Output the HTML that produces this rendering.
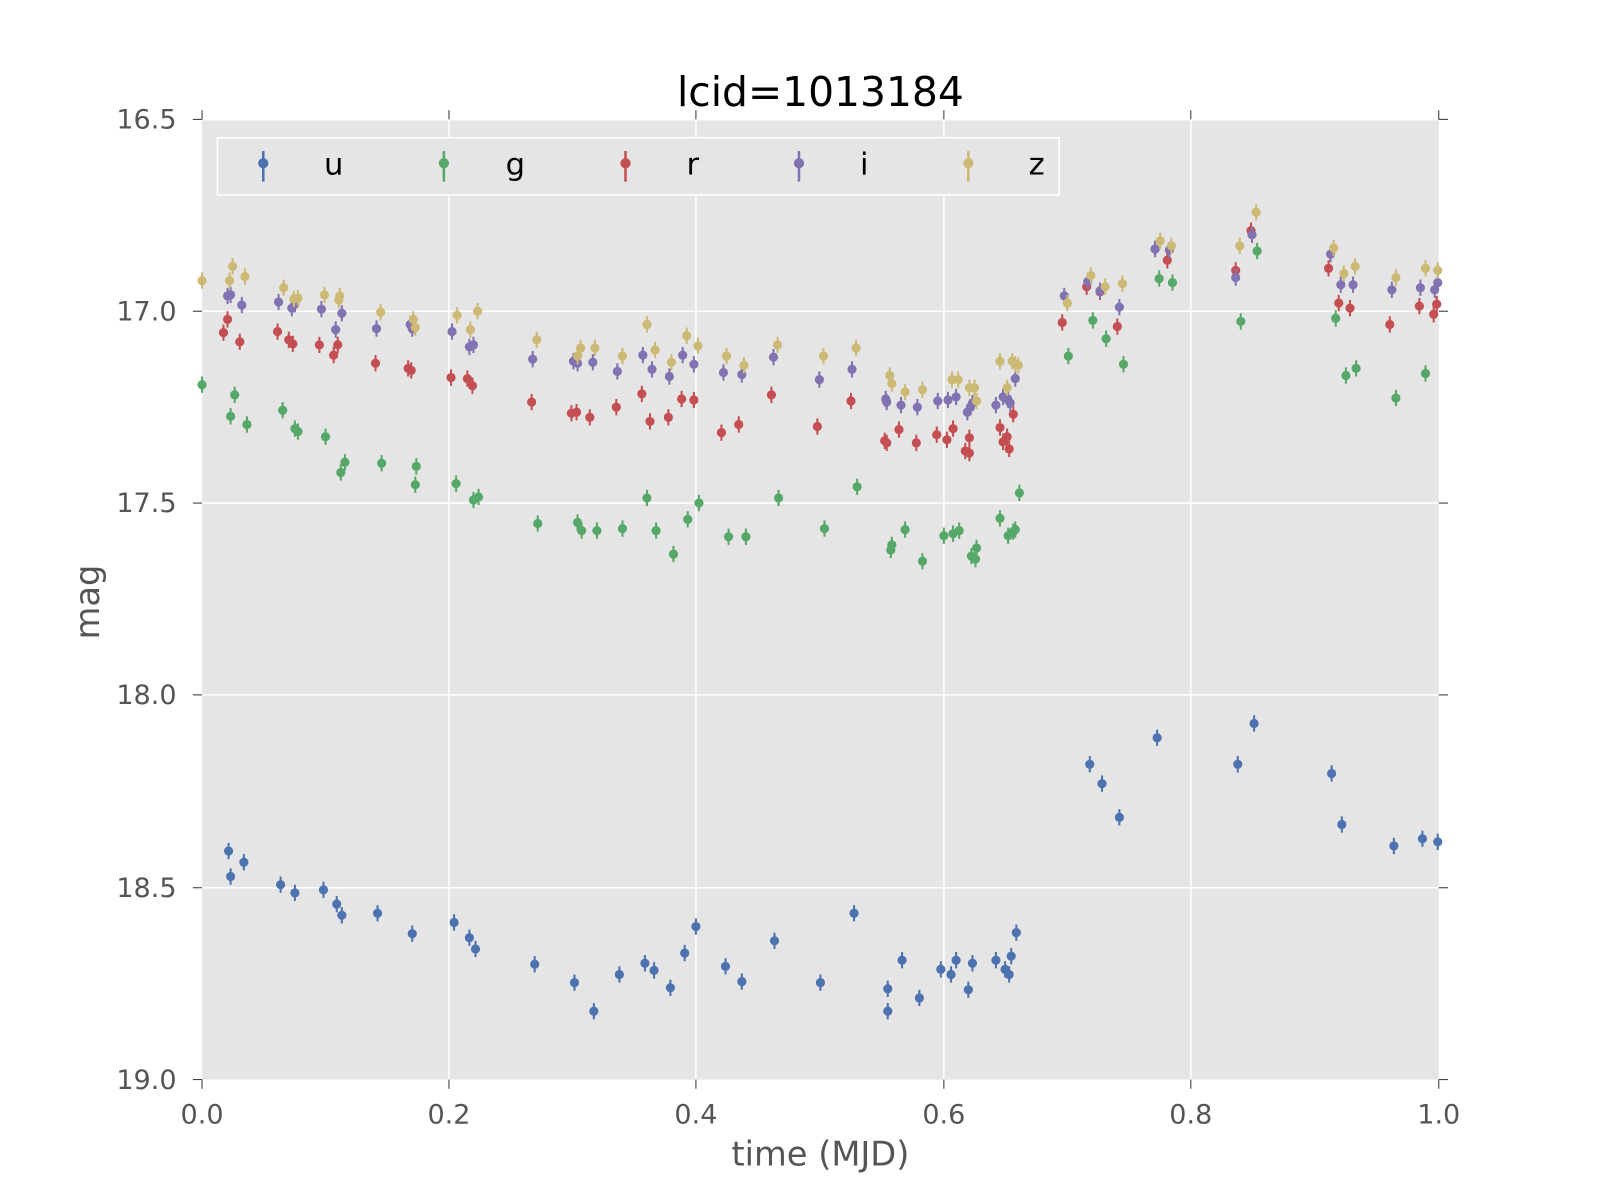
<!DOCTYPE html>
<html><head><meta charset="utf-8"><style>body{margin:0;background:#fff;overflow:hidden}svg{display:block}text{font-family:"DejaVu Sans","Liberation Sans",sans-serif}</style></head>
<body>
<svg width="1600" height="1200" xmlns="http://www.w3.org/2000/svg">
<g transform="scale(1.0204)">
<rect x="198" y="118" width="1212" height="940" fill="#E5E5E5"/>
<g stroke="#fff" stroke-width="1.5">
<line x1="440" y1="118" x2="440" y2="1058"/><line x1="682" y1="118" x2="682" y2="1058"/><line x1="925" y1="118" x2="925" y2="1058"/><line x1="1167" y1="118" x2="1167" y2="1058"/>
<line x1="198" y1="305" x2="1410" y2="305"/><line x1="198" y1="493" x2="1410" y2="493"/><line x1="198" y1="681" x2="1410" y2="681"/><line x1="198" y1="870" x2="1410" y2="870"/>
</g>
<g stroke="#333" stroke-width="1">
<line x1="198" y1="108" x2="198" y2="117"/><line x1="440" y1="108" x2="440" y2="117"/><line x1="682" y1="108" x2="682" y2="117"/><line x1="925" y1="108" x2="925" y2="117"/><line x1="1167" y1="108" x2="1167" y2="117"/><line x1="1410" y1="108" x2="1410" y2="117"/>
<line x1="198" y1="1058" x2="198" y2="1067"/><line x1="440" y1="1058" x2="440" y2="1067"/><line x1="682" y1="1058" x2="682" y2="1067"/><line x1="925" y1="1058" x2="925" y2="1067"/><line x1="1167" y1="1058" x2="1167" y2="1067"/><line x1="1410" y1="1058" x2="1410" y2="1067"/>
<line x1="189" y1="117" x2="198" y2="117"/><line x1="189" y1="305" x2="198" y2="305"/><line x1="189" y1="493" x2="198" y2="493"/><line x1="189" y1="681" x2="198" y2="681"/><line x1="189" y1="870" x2="198" y2="870"/><line x1="189" y1="1058" x2="198" y2="1058"/>
<line x1="1410" y1="117" x2="1419" y2="117"/><line x1="1410" y1="305" x2="1419" y2="305"/><line x1="1410" y1="493" x2="1419" y2="493"/><line x1="1410" y1="681" x2="1419" y2="681"/><line x1="1410" y1="870" x2="1419" y2="870"/><line x1="1410" y1="1058" x2="1419" y2="1058"/>
</g>
<g font-size="26.5" fill="#555" text-anchor="middle">
<text x="198" y="1101">0.0</text><text x="440" y="1101">0.2</text><text x="682" y="1101">0.4</text><text x="925" y="1101">0.6</text><text x="1167" y="1101">0.8</text><text x="1410" y="1101">1.0</text>
</g>
<g font-size="26.5" fill="#555" text-anchor="end">
<text x="173" y="126">16.5</text><text x="173" y="314">17.0</text><text x="173" y="502">17.5</text><text x="173" y="690">18.0</text><text x="173" y="879">18.5</text><text x="173" y="1067">19.0</text>
</g>
<text x="804" y="1142" font-size="33" fill="#555" text-anchor="middle">time (MJD)</text>
<text x="97" y="590" font-size="33" fill="#555" text-anchor="middle" transform="rotate(-90 97 590)">mag</text>
<text x="804" y="104" font-size="40" fill="#000" text-anchor="middle">lcid=1013184</text>
<rect x="213" y="135" width="825" height="56" fill="#E5E5E5" stroke="#fff" stroke-width="1.5"/>
<g font-size="30" fill="#000" text-anchor="middle">
<text x="327" y="171">u</text><text x="505" y="171">g</text><text x="679" y="171">r</text><text x="847" y="171">i</text><text x="1016" y="171">z</text>
</g>
<g id="pts"></g>
</g>
</svg>
<script>
var S={
"#4C72B0":[[224,834],[226,859],[239,845],[275,867],[289,875],[317,872],[330,886],[335,897],[370,895],[404,915],[445,904],[460,919],[466,930],[524,945],[563,963],[582,991],[607,955],[632,944],[641,951],[657,968],[671,934],[682,908],[711,947],[727,962],[759,922],[804,963],[837,895],[870,969],[870,991],[884,941],[901,978],[922,950],[932,955],[937,941],[949,970],[953,944],[976,941],[985,950],[989,955],[991,937],[996,914],[1068,749],[1080,768],[1097,801],[1134,723],[1213,749],[1229,709],[1305,758],[1315,808],[1366,829],[1394,822],[1409,825]],
"#55A868":[[198,377],[226,408],[230,387],[242,416],[277,402],[289,420],[292,423],[319,428],[334,463],[338,453],[374,454],[407,475],[408,457],[447,474],[464,490],[469,487],[527,513],[566,512],[570,520],[585,520],[610,518],[634,488],[643,520],[660,543],[674,509],[685,493],[714,526],[731,526],[763,488],[808,518],[840,477],[873,539],[874,534],[887,519],[904,550],[925,525],[934,523],[940,520],[952,545],[956,548],[957,537],[980,508],[988,525],[993,521],[995,519],[999,483],[1047,349],[1071,314],[1084,332],[1101,357],[1136,273],[1149,277],[1216,315],[1232,246],[1309,312],[1319,368],[1329,361],[1368,390],[1397,366]],
"#C44E52":[[219,326],[223,313],[235,335],[272,325],[283,333],[287,337],[313,338],[327,348],[331,338],[368,356],[400,361],[403,363],[442,370],[458,371],[463,378],[521,394],[560,405],[565,404],[578,409],[604,399],[629,386],[637,413],[655,409],[668,391],[680,392],[707,424],[724,416],[756,387],[801,418],[834,393],[867,432],[869,434],[881,421],[898,434],[918,426],[928,431],[934,420],[946,442],[950,444],[950,429],[980,419],[983,433],[989,440],[987,428],[993,406],[1041,316],[1065,281],[1078,286],[1095,320],[1132,244],[1144,255],[1211,265],[1226,226],[1302,263],[1312,297],[1323,302],[1362,318],[1391,300],[1405,308],[1408,298]],
"#8172B2":[[223,290],[226,289],[237,299],[273,296],[286,302],[289,298],[315,303],[329,323],[335,307],[369,322],[402,318],[404,322],[443,325],[460,340],[464,338],[522,352],[562,354],[566,356],[581,355],[605,364],[630,348],[639,362],[656,369],[669,348],[680,357],[709,365],[727,367],[758,350],[803,372],[835,362],[868,391],[869,394],[883,397],[899,399],[919,393],[929,392],[937,389],[948,404],[951,399],[953,395],[976,397],[983,389],[988,392],[990,395],[995,371],[1043,290],[1066,276],[1078,285],[1097,301],[1132,244],[1146,245],[1211,272],[1227,230],[1304,249],[1314,279],[1326,279],[1364,284],[1392,282],[1406,284],[1409,277]],
"#CCB974":[[198,275],[225,275],[228,261],[240,271],[278,282],[288,293],[292,292],[318,289],[332,294],[333,290],[373,306],[405,313],[407,321],[448,309],[461,323],[468,305],[526,333],[566,349],[569,341],[583,341],[610,349],[634,318],[642,343],[658,355],[673,329],[684,339],[712,349],[729,358],[762,338],[807,349],[839,341],[872,368],[874,376],[887,384],[904,382],[933,372],[939,372],[950,380],[955,380],[957,393],[980,354],[987,380],[992,354],[995,357],[998,358],[1046,297],[1069,270],[1083,281],[1100,278],[1137,236],[1148,241],[1215,241],[1231,208],[1307,243],[1317,268],[1328,261],[1368,272],[1397,263],[1409,265]]};
var h='',lx=[258,435,613,783,949],k=0;
for(var c in S){S[c].forEach(function(p){h+='<line x1="'+p[0]+'" x2="'+p[0]+'" y1="'+(p[1]-8)+'" y2="'+(p[1]+8)+'" stroke="'+c+'" stroke-width="2"/><circle cx="'+p[0]+'" cy="'+p[1]+'" r="4.5" fill="'+c+'"/>';});
h+='<line x1="'+lx[k]+'" x2="'+lx[k]+'" y1="148" y2="178" stroke="'+c+'" stroke-width="2.5"/><circle cx="'+lx[k]+'" cy="160" r="5" fill="'+c+'"/>';k++;}
document.getElementById('pts').innerHTML=h;
</script>
</body></html>
